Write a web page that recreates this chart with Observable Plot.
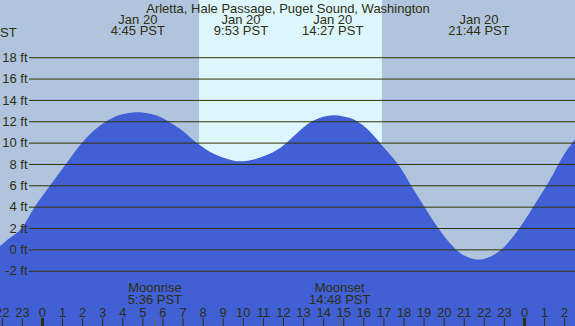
<!DOCTYPE html>
<html>
<head>
<meta charset="utf-8">
<script src="https://cdn.jsdelivr.net/npm/d3@7"></script>
<script src="https://cdn.jsdelivr.net/npm/@observablehq/plot@0.6"></script>
<style>
  html, body { margin: 0; padding: 0; background: #b0c4de; }
  #chart svg { display: block; }
</style>
</head>
<body>
<div id="chart"></div>
<script>
// ---- data ----
const title = "Arletta, Hale Passage, Puget Sound, Washington";
const tideHours = [-2.09, -2, -1.5, -1, -0.5, 0, 0.5, 1, 1.5, 2, 2.5, 3, 3.5, 4, 4.5, 5, 5.5, 6, 6.5, 7, 7.5, 8, 8.5, 9, 9.5, 10, 10.5, 11, 11.5, 12, 12.5, 13, 13.5, 14, 14.5, 15, 15.5, 16, 16.5, 17, 17.5, 18, 18.5, 19, 19.5, 20, 20.5, 21, 21.5, 22, 22.5, 23, 23.5, 24, 24.5, 25, 25.5, 26, 26.5, 26.54];
const tideFeet = [0.3, 0.45, 1.2, 2.0, 3.55, 4.95, 6.25, 7.5, 8.8, 10.0, 11.0, 11.75, 12.3, 12.65, 12.82, 12.82, 12.65, 12.3, 11.75, 11.1, 10.3, 9.6, 9.0, 8.6, 8.33, 8.25, 8.4, 8.7, 9.1, 9.7, 10.55, 11.4, 12.05, 12.42, 12.56, 12.45, 12.2, 11.6, 10.7, 9.6, 8.5, 7.2, 5.6, 4.1, 2.6, 1.3, 0.2, -0.55, -0.9, -0.9, -0.5, 0.2, 1.3, 2.6, 4.1, 5.6, 7.2, 8.9, 10.2, 10.3];

const extremeHours = [4.75, 9.883, 14.45, 21.733];
const extremeDates = ["Jan 20", "Jan 20", "Jan 20", "Jan 20"];
const extremeTimes = ["4:45 PST", "9:53 PST", "14:27 PST", "21:44 PST"];

const sunHours = [7.82, 16.93];          // sunrise, sunset
const moonHours = [5.6, 14.8];
const moonNames = ["Moonrise", "Moonset"];
const moonTimes = ["5:36 PST", "14:48 PST"];

const yTicks = [-2, 0, 2, 4, 6, 8, 10, 12, 14, 16, 18];
const hourTicks = d3.range(-2, 27);
const xDomain = [-2.09, 26.54];
const yDomain = [-7.18, 23.36];

// ---- build tables ----
const tide = tideHours.map((h, i) => ({h, ft: tideFeet[i]}));
const extremes = extremeHours.map((h, i) => ({h, label: extremeDates[i] + "\n" + extremeTimes[i]}));
const moon = moonHours.map((h, i) => ({h, label: moonNames[i] + "\n" + moonTimes[i]}));

const ink = "#2e2e10";
const font = "Liberation Sans, Arial, sans-serif";
const fs = 13;

const chart = Plot.plot({
  width: 575,
  height: 326,
  margin: 0,
  style: {background: "#b0c4de", fontFamily: font, fontSize: "13px", color: ink},
  x: {domain: xDomain, axis: null},
  y: {domain: yDomain, axis: null},
  marks: [
    Plot.rect([{a: sunHours[0], b: sunHours[1]}], {x1: "a", x2: "b", fill: "#ddf6fe"}),
    Plot.areaY(tide, {x: "h", y1: yDomain[0], y2: "ft", fill: "#4160d6", curve: "natural"}),
    Plot.ruleY(yTicks, {stroke: "#333300", strokeWidth: 1, insetLeft: 29}),
    Plot.text(yTicks, {y: d => d, text: d => `${d} ft`, frameAnchor: "left", dx: 27, textAnchor: "end", fill: ink, fontSize: fs}),
    Plot.text([title], {text: d => d, frameAnchor: "top", dy: 3, lineAnchor: "top", fill: ink, fontSize: fs}),
    Plot.text(extremes, {x: "h", text: "label", frameAnchor: "top", dy: 16, lineAnchor: "top", lineHeight: 0.85, fill: ink, fontSize: fs}),
    Plot.text(["ST"], {text: d => d, frameAnchor: "top-left", dy: 27, lineAnchor: "top", textAnchor: "start", dx: -0.5, fill: ink, fontSize: fs}),
    Plot.text(moon, {x: "h", text: "label", frameAnchor: "bottom", dy: -23, lineAnchor: "bottom", lineHeight: 0.85, fill: ink, fontSize: fs}),
    Plot.text(hourTicks, {x: d => d, text: d => String(((d % 24) + 24) % 24), frameAnchor: "bottom", dy: -10, lineAnchor: "bottom", fill: ink, fontSize: fs}),
    Plot.ruleX(hourTicks, {x: d => d, stroke: ink, strokeWidth: d => (d % 24 === 0 ? 3 : 1), insetTop: 318}),
    Plot.ruleX(moonHours, {x: d => d, stroke: "#7a6a3a", strokeWidth: 1, insetTop: 318})
  ]
});
document.getElementById("chart").append(chart);
</script>
</body>
</html>
